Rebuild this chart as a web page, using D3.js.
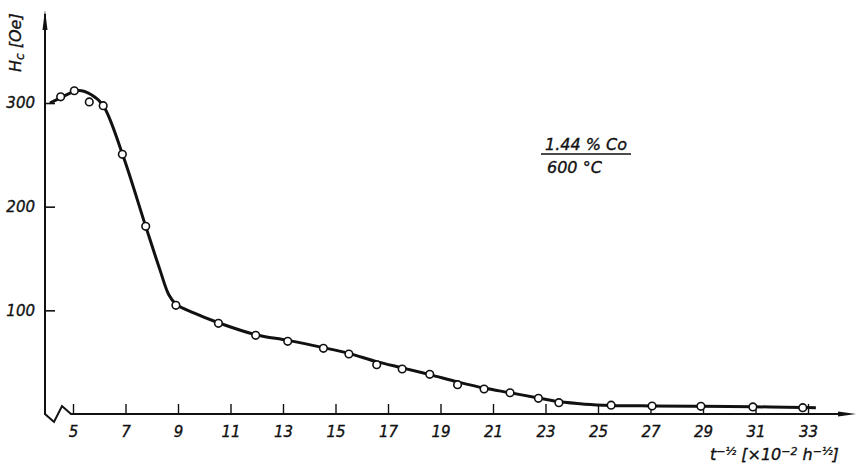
<!DOCTYPE html>
<html>
<head>
<meta charset="utf-8">
<script src="https://cdn.jsdelivr.net/npm/d3@7"></script>
<style>
  body { margin: 0; background: #fff; }
  svg { display: block; }
  text { font-family: "DejaVu Sans", sans-serif; font-style: italic; fill: #111; stroke: #111; stroke-width: 0.35px; }
</style>
</head>
<body>
<svg id="chart" width="857" height="470"></svg>
<script>
// measured points, t^-1/2 (x10^-2 h^-1/2) vs Hc (Oe)
const pointX = [4.53, 5.05, 5.62, 6.15, 6.88, 7.77, 8.92, 10.54, 11.96, 13.18, 14.54, 15.51, 16.57,
  17.54, 18.59, 19.65, 20.66, 21.65, 22.73, 23.51, 25.5, 27.06, 28.92, 30.9, 32.8];
const pointY = [306, 311.8, 301, 297.4, 250.5, 181, 104.8, 87.5, 75.9, 70.1, 63.4, 57.9, 47.5,
  43.4, 38.3, 28.3, 24.1, 20.5, 15.1, 10.9, 8.5, 7.7, 7.4, 6.8, 6.1];

// hand-drawn fit line
const fitX = [4.12, 4.53, 5.2, 5.7, 6.15, 6.88, 7.77, 8.3, 8.65, 8.92, 9.6, 10.54, 11.96, 13.18, 14.54,
  15.51, 16.57, 17.54, 18.59, 19.65, 20.66, 21.65, 22.73, 23.51, 24.5, 25.5, 27.06, 28.92, 30.9, 32.8, 33.3];
const fitY = [300, 305, 312, 308, 297.5, 251, 181, 140, 115, 106, 97.5, 88, 76.5, 71, 64,
  58.5, 50.5, 44.5, 38, 31, 25, 20.5, 15.5, 12, 9.5, 8.3, 7.8, 7.5, 7, 6.3, 6];

const xTicks = [5, 7, 9, 11, 13, 15, 17, 19, 21, 23, 25, 27, 29, 31, 33];
const yTicks = [100, 200, 300];

const axisLeftX = 45, axisBaseY = 414, axisTopY = 10, axisRightX = 856;

const svg = d3.select("#chart");

const x = d3.scaleLinear().domain([5, 33]).range([73, 808]);
const y = d3.scaleLinear().domain([0, 300]).range([axisBaseY, 103]);

// y axis
const yAxis = svg.append("g")
  .attr("transform", "translate(" + axisLeftX + ",0)")
  .call(d3.axisLeft(y).tickValues(yTicks).tickSizeInner(-10).tickSizeOuter(0).tickPadding(10));
yAxis.select(".domain").remove();
yAxis.selectAll("line").attr("stroke", "#111").attr("stroke-width", 1.6);
yAxis.selectAll("text").style("font-size", "15px").style("font-family", "DejaVu Sans").style("font-style", "italic");

// x axis
const xAxis = svg.append("g")
  .attr("transform", "translate(0," + axisBaseY + ")")
  .call(d3.axisBottom(x).tickValues(xTicks).tickSizeInner(-10).tickSizeOuter(0).tickPadding(12));
xAxis.select(".domain").remove();
xAxis.selectAll("line").attr("stroke", "#111").attr("stroke-width", 1.4);
xAxis.selectAll("text").style("font-size", "15px").style("font-family", "DejaVu Sans").style("font-style", "italic");

// axis lines with the break at the origin
svg.append("path")
  .attr("d", "M" + axisLeftX + "," + (axisTopY + 4) + " L" + axisLeftX + "," + axisBaseY +
    " L" + (axisLeftX + 9) + "," + (axisBaseY + 8) + " L" + (axisLeftX + 17) + "," + (axisBaseY - 8) +
    " L" + (axisLeftX + 26) + "," + axisBaseY + " L" + (axisRightX - 10) + "," + axisBaseY)
  .attr("fill", "none").attr("stroke", "#111").attr("stroke-width", 2);

// arrow heads
svg.append("path")
  .attr("d", "M" + axisLeftX + "," + axisTopY + " L" + (axisLeftX + 2.5) + "," + (axisTopY + 20) +
    " L" + (axisLeftX - 2.5) + "," + (axisTopY + 20) + "Z")
  .attr("fill", "#111");
svg.append("path")
  .attr("d", "M" + axisRightX + "," + axisBaseY + " L" + (axisRightX - 18) + "," + (axisBaseY - 2.5) +
    " L" + (axisRightX - 18) + "," + (axisBaseY + 2.5) + "Z")
  .attr("fill", "#111");

// fit line
const fitLine = d3.line()
  .x((d, i) => x(fitX[i]))
  .y((d, i) => y(fitY[i]))
  .curve(d3.curveCatmullRom.alpha(0.5));
svg.append("path")
  .datum(fitX)
  .attr("d", fitLine)
  .attr("fill", "none")
  .attr("stroke", "#111")
  .attr("stroke-width", 3);

// points
svg.selectAll("circle.pt")
  .data(pointX)
  .enter()
  .append("circle")
  .attr("class", "pt")
  .attr("cx", d => x(d))
  .attr("cy", (d, i) => y(pointY[i]))
  .attr("r", 3.8)
  .attr("fill", "#fff")
  .attr("stroke", "#111")
  .attr("stroke-width", 1.6);

// y label
const yLab = svg.append("text")
  .attr("transform", "translate(21,72) rotate(-90)")
  .style("font-size", "16px");
yLab.append("tspan").text("H");
yLab.append("tspan").attr("baseline-shift", "-25%").style("font-size", "12px").text("c");
yLab.append("tspan").text(" [Oe]");

// x label
const xLab = svg.append("text")
  .attr("x", 710).attr("y", 460)
  .style("font-size", "16px");
xLab.append("tspan").text("t");
xLab.append("tspan").attr("baseline-shift", "45%").style("font-size", "11px").text("−½");
xLab.append("tspan").text(" [×10");
xLab.append("tspan").attr("baseline-shift", "45%").style("font-size", "11px").text("−2");
xLab.append("tspan").text(" h");
xLab.append("tspan").attr("baseline-shift", "45%").style("font-size", "11px").text("−½");
xLab.append("tspan").text("]");

// sample annotation
svg.append("text").attr("x", 586).attr("y", 150).attr("text-anchor", "middle")
  .style("font-size", "16px").text("1.44 % Co");
svg.append("line").attr("x1", 541).attr("x2", 631).attr("y1", 154).attr("y2", 154)
  .attr("stroke", "#111").attr("stroke-width", 1.6);
svg.append("text").attr("x", 547).attr("y", 173)
  .style("font-size", "16px").text("600 °C");
</script>
</body>
</html>
